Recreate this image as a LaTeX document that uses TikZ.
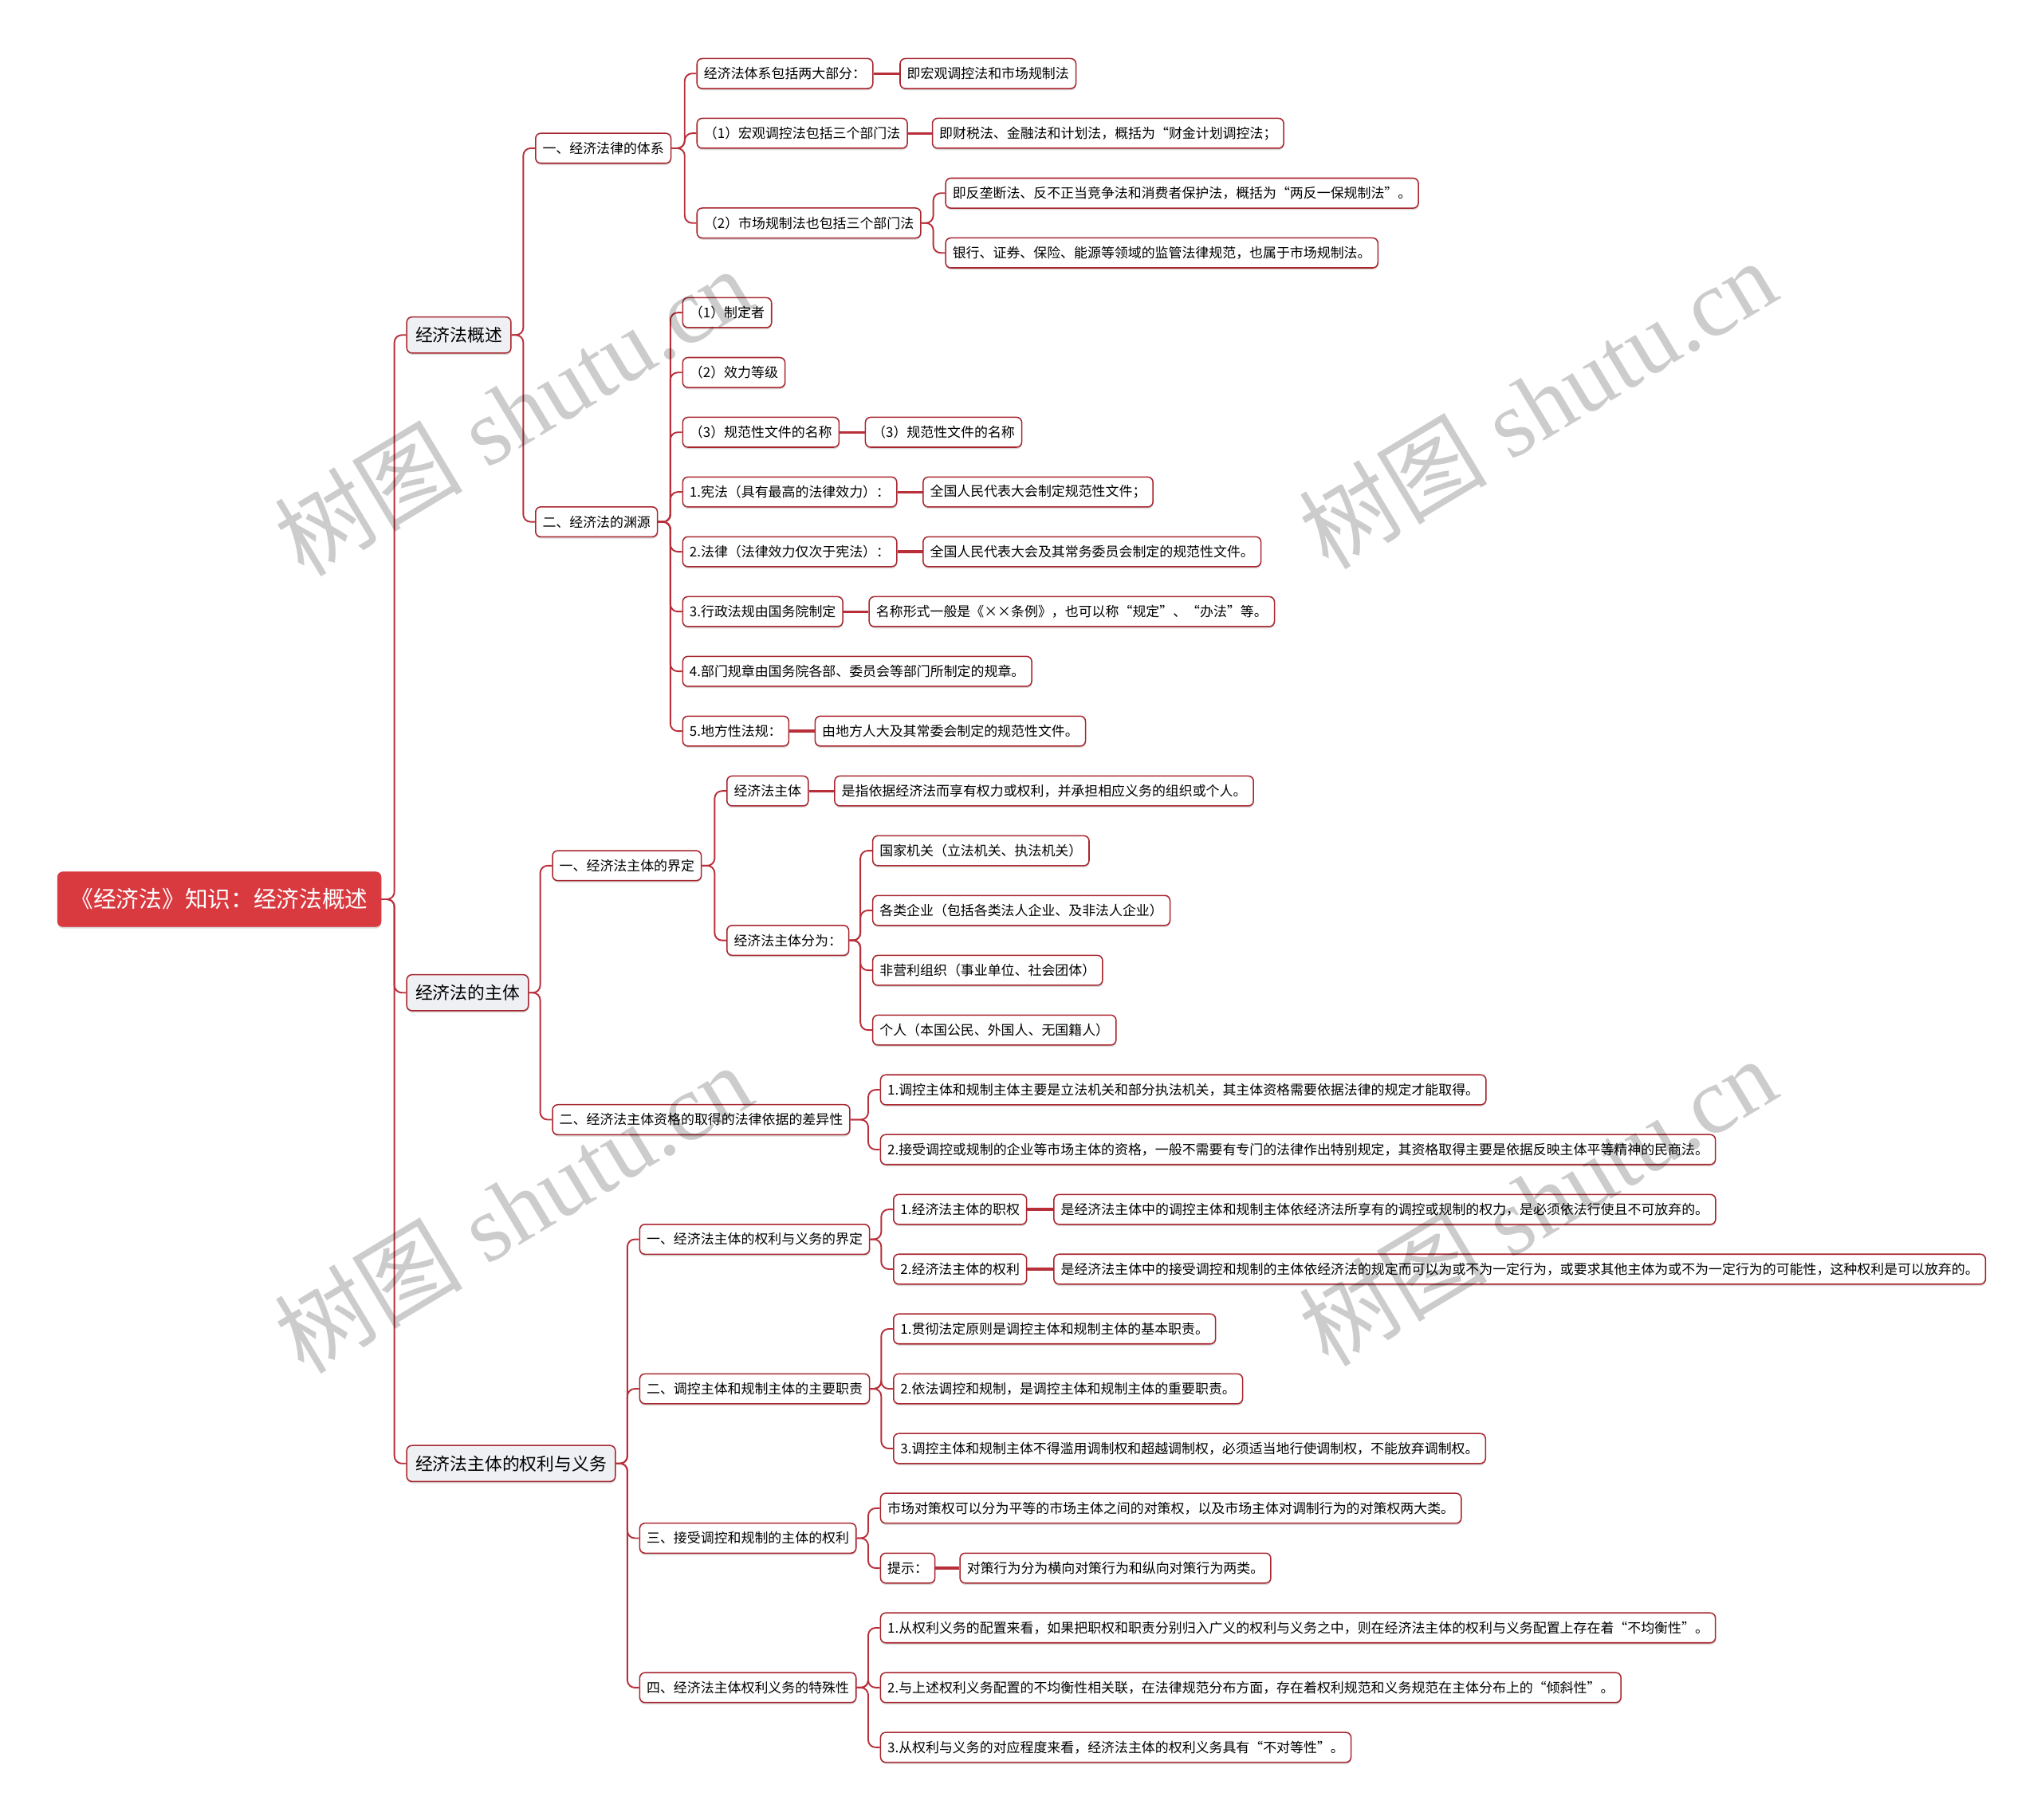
\documentclass[tikz,border=0pt]{standalone}
\usepackage{fontspec}
\usepackage{tikz}
\usetikzlibrary{positioning,shadows}
\newfontfamily\cjk{Noto Sans CJK SC}
\newfontfamily\wmlatin{Liberation Serif}
\definecolor{rootred}{HTML}{D83A40}
\definecolor{linkred}{HTML}{B82F3A}
\definecolor{boxred}{HTML}{A8262E}
\definecolor{topicgray}{HTML}{EEF0F4}
\tikzset{
  boxshadow/.style={drop shadow={shadow xshift=0.2pt,shadow yshift=-1.2pt,fill=black,opacity=0.15}},
  rootbox/.style={fill=rootred,draw=rootred,text=white,rounded corners=0.12cm,anchor=west,
    inner xsep=0.3cm,minimum height=1.26cm,font=\cjk\fontsize{15}{18}\selectfont,boxshadow},
  topicbox/.style={fill=topicgray,draw=boxred,line width=0.8pt,rounded corners=0.12cm,anchor=west,
    inner xsep=0.2cm,minimum height=0.83cm,font=\cjk\fontsize{11.4}{13}\selectfont,boxshadow},
  itembox/.style={fill=white,draw=boxred,line width=0.8pt,rounded corners=0.12cm,anchor=west,
    inner xsep=0.16cm,minimum height=0.69cm,font=\cjk\fontsize{8.85}{10}\selectfont,boxshadow},
  link/.style={draw=linkred,line width=1pt,rounded corners=0.17cm},
  leaflink/.style={draw=linkred,line width=1.7pt},
  wmtext/.style={text=black,text opacity=0.2,rotate=31,font=\wmlatin\fontsize{62}{66}\selectfont}
}
\begin{document}
\begin{tikzpicture}[x=0.03cm,y=-0.03cm]
  \useasboundingbox (0,0) rectangle (1568,1398);
  % root and main topics
  \node[rootbox] (root) at (44,690.9) {《经济法》知识：经济法概述};
  \node[topicbox] (t1) at (312,257.4) {经济法概述};
  \node[topicbox] (t2) at (312,762.7) {经济法的主体};
  \node[topicbox] (t3) at (312,1124.4) {经济法主体的权利与义务};
  % 经济法概述
  \node[itembox] (a1) at (411,113.9) {一、经济法律的体系};
  \node[itembox] (a2) at (411,400.95) {二、经济法的渊源};
  \node[itembox] (a11) at (535,56.5) {经济法体系包括两大部分：};
  \node[itembox,right=0.6cm of a11] (a11x) {即宏观调控法和市场规制法};
  \node[itembox] (a12) at (535,102.4) {（1）宏观调控法包括三个部门法};
  \node[itembox,right=0.55cm of a12] (a12x) {即财税法、金融法和计划法，概括为“财金计划调控法；};
  \node[itembox] (a13) at (535,171.35) {（2）市场规制法也包括三个部门法};
  \node[itembox] (a131) at (726,148.4) {即反垄断法、反不正当竞争法和消费者保护法，概括为“两反一保规制法”。};
  \node[itembox] (a132) at (726,194.3) {银行、证券、保险、能源等领域的监管法律规范，也属于市场规制法。};
  \node[itembox] (a21) at (524,240.2) {（1）制定者};
  \node[itembox] (a22) at (524,286.2) {（2）效力等级};
  \node[itembox] (a23) at (524,332.1) {（3）规范性文件的名称};
  \node[itembox,right=0.58cm of a23] (a23x) {（3）规范性文件的名称};
  \node[itembox] (a24) at (524,378.0) {1.宪法（具有最高的法律效力）：};
  \node[itembox,right=0.58cm of a24] (a24x) {全国人民代表大会制定规范性文件；};
  \node[itembox] (a25) at (524,423.9) {2.法律（法律效力仅次于宪法）：};
  \node[itembox,right=0.58cm of a25] (a25x) {全国人民代表大会及其常务委员会制定的规范性文件。};
  \node[itembox] (a26) at (524,469.9) {3.行政法规由国务院制定};
  \node[itembox,right=0.58cm of a26] (a26x) {名称形式一般是《××条例》，也可以称“规定”、“办法”等。};
  \node[itembox] (a27) at (524,515.8) {4.部门规章由国务院各部、委员会等部门所制定的规章。};
  \node[itembox] (a28) at (524,561.7) {5.地方性法规：};
  \node[itembox,right=0.58cm of a28] (a28x) {由地方人大及其常委会制定的规范性文件。};
  % 经济法的主体
  \node[itembox] (b1) at (424,665.1) {一、经济法主体的界定};
  \node[itembox] (b2) at (424,860.25) {二、经济法主体资格的取得的法律依据的差异性};
  \node[itembox] (b11) at (558,607.7) {经济法主体};
  \node[itembox,right=0.58cm of b11] (b11x) {是指依据经济法而享有权力或权利，并承担相应义务的组织或个人。};
  \node[itembox] (b12) at (558,722.5) {经济法主体分为：};
  \node[itembox] (b121) at (670,653.6) {国家机关（立法机关、执法机关）};
  \node[itembox] (b122) at (670,699.5) {各类企业（包括各类法人企业、及非法人企业）};
  \node[itembox] (b123) at (670,745.5) {非营利组织（事业单位、社会团体）};
  \node[itembox] (b124) at (670,791.4) {个人（本国公民、外国人、无国籍人）};
  \node[itembox] (b21) at (676,837.3) {1.调控主体和规制主体主要是立法机关和部分执法机关，其主体资格需要依据法律的规定才能取得。};
  \node[itembox] (b22) at (676,883.2) {2.接受调控或规制的企业等市场主体的资格，一般不需要有专门的法律作出特别规定，其资格取得主要是依据反映主体平等精神的民商法。};
  % 经济法主体的权利与义务
  \node[itembox] (c1) at (491,952.15) {一、经济法主体的权利与义务的界定};
  \node[itembox] (c2) at (491,1067.0) {二、调控主体和规制主体的主要职责};
  \node[itembox] (c3) at (491,1181.8) {三、接受调控和规制的主体的权利};
  \node[itembox] (c4) at (491,1296.6) {四、经济法主体权利义务的特殊性};
  \node[itembox] (c11) at (686,929.2) {1.经济法主体的职权};
  \node[itembox,right=0.6cm of c11] (c11x) {是经济法主体中的调控主体和规制主体依经济法所享有的调控或规制的权力，是必须依法行使且不可放弃的。};
  \node[itembox] (c12) at (686,975.1) {2.经济法主体的权利};
  \node[itembox,right=0.6cm of c12] (c12x) {是经济法主体中的接受调控和规制的主体依经济法的规定而可以为或不为一定行为，或要求其他主体为或不为一定行为的可能性，这种权利是可以放弃的。};
  \node[itembox] (c21) at (686,1021.0) {1.贯彻法定原则是调控主体和规制主体的基本职责。};
  \node[itembox] (c22) at (686,1067.0) {2.依法调控和规制，是调控主体和规制主体的重要职责。};
  \node[itembox] (c23) at (686,1112.9) {3.调控主体和规制主体不得滥用调制权和超越调制权，必须适当地行使调制权，不能放弃调制权。};
  \node[itembox] (c31) at (676,1158.8) {市场对策权可以分为平等的市场主体之间的对策权，以及市场主体对调制行为的对策权两大类。};
  \node[itembox] (c32) at (676,1204.8) {提示：};
  \node[itembox,right=0.55cm of c32] (c32x) {对策行为分为横向对策行为和纵向对策行为两类。};
  \node[itembox] (c41) at (676,1250.7) {1.从权利义务的配置来看，如果把职权和职责分别归入广义的权利与义务之中，则在经济法主体的权利与义务配置上存在着“不均衡性”。};
  \node[itembox] (c42) at (676,1296.6) {2.与上述权利义务配置的不均衡性相关联，在法律规范分布方面，存在着权利规范和义务规范在主体分布上的“倾斜性”。};
  \node[itembox] (c43) at (676,1342.5) {3.从权利与义务的对应程度来看，经济法主体的权利义务具有“不对等性”。};
  % branches
  \foreach \p/\c in {root/t1,root/t2,root/t3,t1/a1,t1/a2,a1/a11,a1/a12,a1/a13,a13/a131,a13/a132,
      a2/a21,a2/a22,a2/a23,a2/a24,a2/a25,a2/a26,a2/a27,a2/a28,t2/b1,t2/b2,b1/b11,b1/b12,
      b12/b121,b12/b122,b12/b123,b12/b124,b2/b21,b2/b22,t3/c1,t3/c2,t3/c3,t3/c4,
      c1/c11,c1/c12,c2/c21,c2/c22,c2/c23,c3/c31,c3/c32,c4/c41,c4/c42,c4/c43}
    \draw[link] (\c.west) -- ++(-9,0) |- (\p.east);
  \foreach \a/\b in {a11/a11x,a12/a12x,a23/a23x,a24/a24x,a25/a25x,a26/a26x,a28/a28x,
      b11/b11x,c11/c11x,c12/c12x,c32/c32x}
    \draw[leaflink] (\a.east) -- (\b.west);
  % watermarks
  \node[wmtext] (wm1) at (394,316) {{\cjk 树图} shutu.cn};
  \node[wmtext] (wm2) at (1181,310) {{\cjk 树图} shutu.cn};
  \node[wmtext] (wm3) at (394,928) {{\cjk 树图} shutu.cn};
  \node[wmtext] (wm4) at (1181,923) {{\cjk 树图} shutu.cn};
\end{tikzpicture}
\end{document}
